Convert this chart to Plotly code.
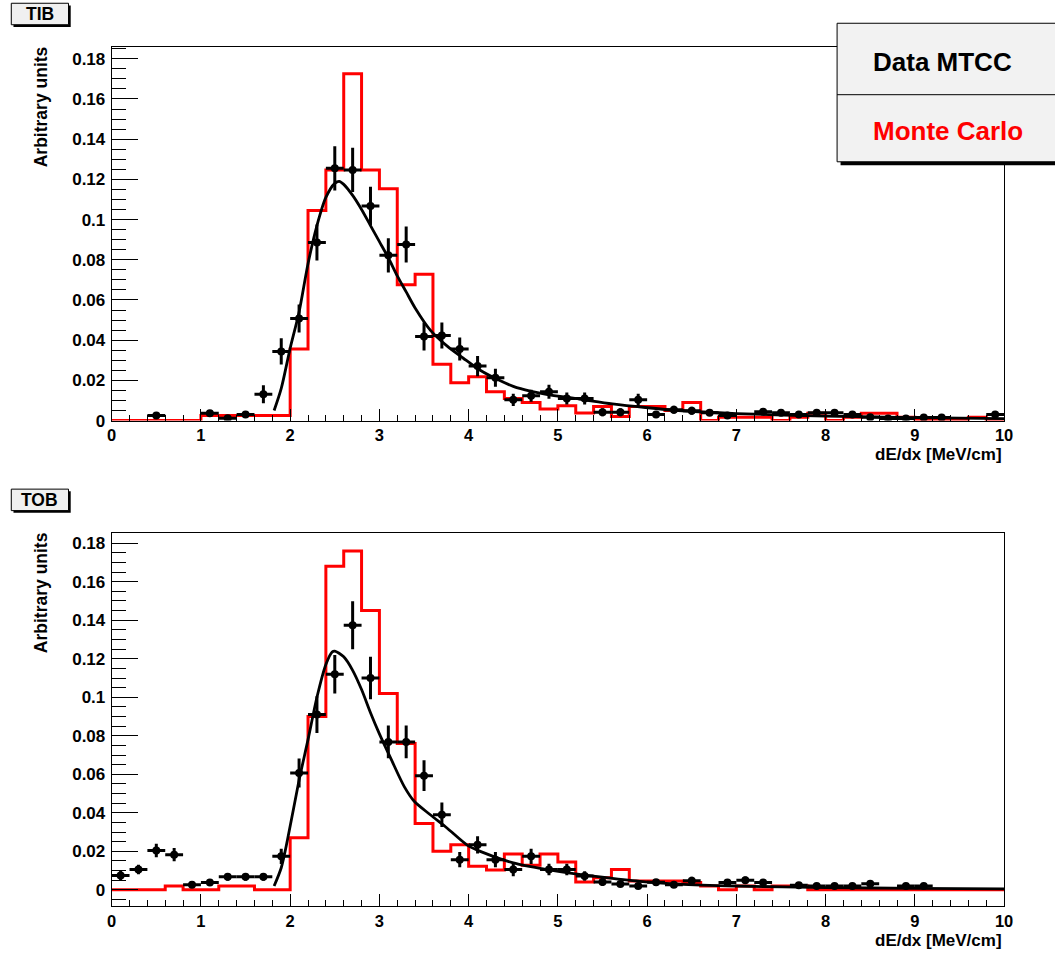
import plotly.graph_objects as go

W, H = 1055, 958

# ---------------- data ----------------
bin_width = 0.2
n_bins = 50
bin_edges = [round(i * bin_width, 1) for i in range(n_bins + 1)]

# TIB: Monte Carlo histogram (50 bins, 0-10 MeV/cm)
tib_mc = [0, 0, 0, 0, 0,
          0.0025, 0.0025, 0.0025, 0.0025, 0.0025,
          0.0356, 0.1045, 0.1247, 0.1726, 0.1247,
          0.1153, 0.0676, 0.0728, 0.0280, 0.0188,
          0.0218, 0.0143, 0.0110, 0.0090, 0.0058,
          0.0074, 0.0038, 0.0070, 0.0020, 0.0070,
          0.0070, 0.0050, 0.0090, 0.0, 0.0016,
          0.0016, 0.0016, 0.0, 0.0016, 0.0037,
          0.0, 0.0016, 0.0037, 0.0037, 0.0016,
          0.0, 0.0, 0.0, 0.0016, 0.0]

# TIB: data MTCC
tib_x = [0.5, 1.1, 1.3, 1.5, 1.7, 1.9, 2.1, 2.3, 2.5, 2.7, 2.9, 3.1, 3.3, 3.5, 3.7,
         3.9, 4.1, 4.3, 4.5, 4.7, 4.9, 5.1, 5.3, 5.5, 5.7, 5.9, 6.1, 6.3, 6.5, 6.7,
         6.9, 7.3, 7.5, 7.7, 7.9, 8.1, 8.3, 8.5, 8.7, 8.9, 9.1, 9.3, 9.9]
tib_y = [0.0025, 0.0036, 0.0011, 0.0030, 0.0131, 0.0344, 0.0508, 0.0886, 0.1255, 0.1247,
         0.1068, 0.0822, 0.0876, 0.0418, 0.0423, 0.0356, 0.0271, 0.0213, 0.0103, 0.0123,
         0.0143, 0.0110, 0.0110, 0.0041, 0.0041, 0.0103, 0.0030, 0.0054, 0.0049, 0.0039,
         0.0025, 0.0044, 0.0039, 0.0030, 0.0039, 0.0039, 0.0030, 0.0016, 0.0010, 0.0010,
         0.0015, 0.0015, 0.0030]
tib_err = [0.0015, 0.0015, 0.0010, 0.0015, 0.0045, 0.0065, 0.0070, 0.0090, 0.0110, 0.0110,
           0.0095, 0.0085, 0.0090, 0.0070, 0.0065, 0.0057, 0.0050, 0.0045, 0.0030, 0.0030,
           0.0035, 0.0030, 0.0030, 0.0020, 0.0020, 0.0030, 0.0015, 0.0020, 0.0020, 0.0015,
           0.0010, 0.0015, 0.0015, 0.0015, 0.0015, 0.0015, 0.0015, 0.0010, 0.0010, 0.0010,
           0.0010, 0.0010, 0.0015]

# TIB: fit curve
tib_fit_x = [1.82, 1.9, 2.0, 2.1, 2.2, 2.3, 2.4, 2.5, 2.55, 2.6, 2.7, 2.8, 2.9, 3.0, 3.1,
             3.2, 3.3, 3.4, 3.57, 3.76, 3.94, 4.13, 4.32, 4.5, 4.69, 4.87, 5.24, 5.61,
             5.98, 6.35, 7.0, 8.0, 9.0, 10.0]
tib_fit_y = [0.005, 0.016, 0.036, 0.054, 0.078, 0.097, 0.111, 0.118, 0.119, 0.1175, 0.112,
             0.105, 0.097, 0.089, 0.081, 0.072, 0.064, 0.056, 0.045, 0.037, 0.031, 0.025,
             0.0205, 0.017, 0.0146, 0.013, 0.0107, 0.0083, 0.0065, 0.005, 0.0035, 0.0022,
             0.0015, 0.001]

# TOB: Monte Carlo histogram
tob_mc = [0, 0, 0, 0.002, 0,
          0, 0.002, 0.002, 0, 0,
          0.027, 0.090, 0.168, 0.176, 0.145,
          0.102, 0.076, 0.0345, 0.020, 0.0234,
          0.0123, 0.0103, 0.0186, 0.0128, 0.0186,
          0.0145, 0.0041, 0.0063, 0.0106, 0.0046,
          0.0046, 0.0046, 0.0038, 0.002, 0.0,
          0.002, 0.0, 0.002, 0.002, 0.0,
          0, 0, 0, 0, 0,
          0, 0, 0, 0, 0]

# TOB: data MTCC
tob_x = [0.1, 0.3, 0.5, 0.7, 0.9, 1.1, 1.3, 1.5, 1.7, 1.9, 2.1, 2.3, 2.5, 2.7, 2.9,
         3.1, 3.3, 3.5, 3.7, 3.9, 4.1, 4.3, 4.5, 4.7, 4.9, 5.1, 5.3, 5.5, 5.7, 5.9,
         6.1, 6.3, 6.5, 6.9, 7.1, 7.3, 7.7, 7.9, 8.1, 8.3, 8.5, 8.9, 9.1]
tob_y = [0.0075, 0.0106, 0.0205, 0.0183, 0.0026, 0.0038, 0.0068, 0.0068, 0.0068, 0.0174,
         0.0607, 0.0910, 0.1120, 0.1374, 0.1100, 0.0768, 0.0768, 0.0593, 0.0390, 0.0157,
         0.0234, 0.0157, 0.0106, 0.0174, 0.0106, 0.0106, 0.0072, 0.0041, 0.0030, 0.0020,
         0.0040, 0.0026, 0.0048, 0.0038, 0.0050, 0.0038, 0.0024, 0.0020, 0.0020, 0.0020,
         0.0032, 0.0020, 0.0020]
tob_err = [0.0025, 0.0025, 0.0035, 0.0035, 0.0012, 0.0015, 0.0020, 0.0020, 0.0020, 0.0040,
           0.0075, 0.0095, 0.0100, 0.0125, 0.0110, 0.0085, 0.0085, 0.0080, 0.0064, 0.0040,
           0.0045, 0.0040, 0.0035, 0.0040, 0.0030, 0.0030, 0.0025, 0.0020, 0.0015, 0.0012,
           0.0015, 0.0012, 0.0020, 0.0015, 0.0020, 0.0015, 0.0012, 0.0010, 0.0010, 0.0010,
           0.0012, 0.0010, 0.0010]

# TOB: fit curve
tob_fit_x = [1.82, 1.9, 1.97, 2.1, 2.2, 2.3, 2.4, 2.47, 2.5, 2.6, 2.7, 2.8, 2.9, 3.0,
             3.13, 3.28, 3.39, 3.57, 3.76, 3.98, 4.13, 4.5, 4.87, 5.24, 5.61, 5.98, 6.35,
             7.0, 8.0, 9.0, 10.0]
tob_fit_y = [0.002, 0.0115, 0.026, 0.057, 0.078, 0.100, 0.117, 0.1235, 0.124, 0.121, 0.114,
             0.104, 0.092, 0.081, 0.068, 0.0535, 0.046, 0.039, 0.032, 0.0234, 0.020, 0.014,
             0.0106, 0.008, 0.006, 0.0042, 0.003, 0.002, 0.0012, 0.0008, 0.0005]

panel_labels = ["TIB", "TOB"]
legend_labels = ["Data MTCC", "Monte Carlo"]
x_title = "dE/dx [MeV/cm]"
y_title = "Arbitrary units"

# ---------------- figure ----------------
FONT = "Liberation Sans"
RED = "#ff0000"

# the captured page is squeezed slightly in width (measured: out = 3 + 0.9896 * in),
# so horizontal pixel positions are pre-compensated
SX, OX = 0.9896, 3.0


def px_x(x):
    return ((x - OX) / SX) / W


def px_y(y):
    return 1 - y / H


fig = go.Figure()

panels = [
    dict(mc=tib_mc, x=tib_x, y=tib_y, err=tib_err, fx=tib_fit_x, fy=tib_fit_y,
         xa="x", ya="y"),
    dict(mc=tob_mc, x=tob_x, y=tob_y, err=tob_err, fx=tob_fit_x, fy=tob_fit_y,
         xa="x2", ya="y2"),
]

for p in panels:
    fig.add_trace(go.Scatter(
        x=bin_edges, y=p["mc"] + [p["mc"][-1]], mode="lines", line_shape="hv",
        line=dict(color=RED, width=3), xaxis=p["xa"], yaxis=p["ya"],
        showlegend=False, hoverinfo="skip"))
    fig.add_trace(go.Scatter(
        x=p["fx"], y=p["fy"], mode="lines", line_shape="spline",
        line=dict(color="black", width=2.8, smoothing=0.8),
        xaxis=p["xa"], yaxis=p["ya"], showlegend=False))
    fig.add_trace(go.Scatter(
        x=p["x"], y=p["y"], mode="markers",
        marker=dict(color="black", size=8, symbol="circle"),
        error_y=dict(type="data", array=p["err"], thickness=3, width=0, color="black"),
        error_x=dict(type="constant", value=bin_width / 2, thickness=3, width=0,
                     color="black"),
        xaxis=p["xa"], yaxis=p["ya"], showlegend=False))

x_dom = [px_x(110), px_x(1005)]
top_dom = [px_y(425), px_y(48)]
bot_dom = [px_y(916), px_y(539)]

ytickfont = dict(family=FONT, size=17, color="black", weight="bold")
xtickfont = dict(family=FONT, size=16.5, color="black", weight="bold")

xcommon = dict(range=[0, 10], tick0=0, dtick=1, ticks="inside", ticklen=12, tickwidth=1,
               tickcolor="black", showline=True, linecolor="black", linewidth=1,
               mirror=True, showgrid=False, zeroline=False, tickfont=xtickfont,
               minor=dict(dtick=0.2, ticklen=6, ticks="inside", tickcolor="black",
                          showgrid=False),
               domain=x_dom, fixedrange=True)
ycommon = dict(tick0=0, dtick=0.02, ticks="inside", ticklen=26, tickwidth=1,
               tickcolor="black", showline=True, linecolor="black", linewidth=1,
               mirror=True, showgrid=False, zeroline=False, tickfont=ytickfont,
               ticklabelstandoff=2,
               minor=dict(dtick=0.005, ticklen=14, ticks="inside", tickcolor="black",
                          showgrid=False),
               fixedrange=True)

fig.update_layout(
    width=W, height=H,
    margin=dict(l=0, r=0, t=0, b=0),
    paper_bgcolor="white", plot_bgcolor="white",
    showlegend=False,
    xaxis=dict(xcommon, anchor="y"),
    yaxis=dict(ycommon, range=[0, 0.1856], domain=top_dom, anchor="x"),
    xaxis2=dict(xcommon, anchor="y2"),
    yaxis2=dict(ycommon, range=[-0.0086, 0.1851], domain=bot_dom, anchor="x2"),
)

shapes = []
annotations = []

# panel label boxes (TIB / TOB)
for lbl, y_off in zip(panel_labels, [0, 491]):
    shapes.append(dict(type="rect", xref="paper", yref="paper",
                       x0=px_x(11.5), x1=px_x(68.9), y0=px_y(27.2 + y_off), y1=px_y(5.5 + y_off),
                       fillcolor="black", line=dict(width=0), layer="above"))
    shapes.append(dict(type="rect", xref="paper", yref="paper",
                       x0=px_x(9.3), x1=px_x(66.7), y0=px_y(25 + y_off), y1=px_y(3.3 + y_off),
                       fillcolor="#f0f0f0", line=dict(color="black", width=1), layer="above"))
    annotations.append(dict(text=lbl, xref="paper", yref="paper", x=px_x(38), y=px_y(14.6 + y_off),
                            xanchor="center", yanchor="middle", showarrow=False,
                            font=dict(family=FONT, size=17.5, color="black", weight="bold")))

# axis titles
for y_top, y_xt in [(48, 459), (539, 950)]:
    annotations.append(dict(text=y_title, xref="paper", yref="paper",
                            x=px_x(39), y=px_y(y_top + 59.5), textangle=-90,
                            xanchor="center", yanchor="middle", showarrow=False,
                            font=dict(family=FONT, size=17.5, color="black", weight="bold")))
    annotations.append(dict(text=x_title, xref="paper", yref="paper",
                            x=px_x(1005), y=px_y(y_xt), xanchor="right", yanchor="middle",
                            showarrow=False,
                            font=dict(family=FONT, size=17, color="black", weight="bold")))

# legend box (TPaveText style)
shapes.append(dict(type="rect", xref="paper", yref="paper",
                   x0=px_x(841), x1=px_x(1070), y0=px_y(167), y1=px_y(27),
                   fillcolor="black", line=dict(width=0), layer="above"))
shapes.append(dict(type="rect", xref="paper", yref="paper",
                   x0=px_x(837.5), x1=px_x(1066), y0=px_y(163.5), y1=px_y(23.5),
                   fillcolor="#f2f2f2", line=dict(color="black", width=1), layer="above"))
shapes.append(dict(type="line", xref="paper", yref="paper",
                   x0=px_x(837.5), x1=px_x(1066), y0=px_y(95.7), y1=px_y(95.7),
                   line=dict(color="black", width=1), layer="above"))
annotations.append(dict(text=legend_labels[0], xref="paper", yref="paper",
                        x=px_x(872), y=px_y(63), xanchor="left", yanchor="middle",
                        showarrow=False,
                        font=dict(family=FONT, size=26, color="black", weight="bold")))
annotations.append(dict(text=legend_labels[1], xref="paper", yref="paper",
                        x=px_x(872), y=px_y(132.5), xanchor="left", yanchor="middle",
                        showarrow=False,
                        font=dict(family=FONT, size=26, color=RED, weight="bold")))

fig.update_layout(shapes=shapes, annotations=annotations)

fig.write_html("out.html")
